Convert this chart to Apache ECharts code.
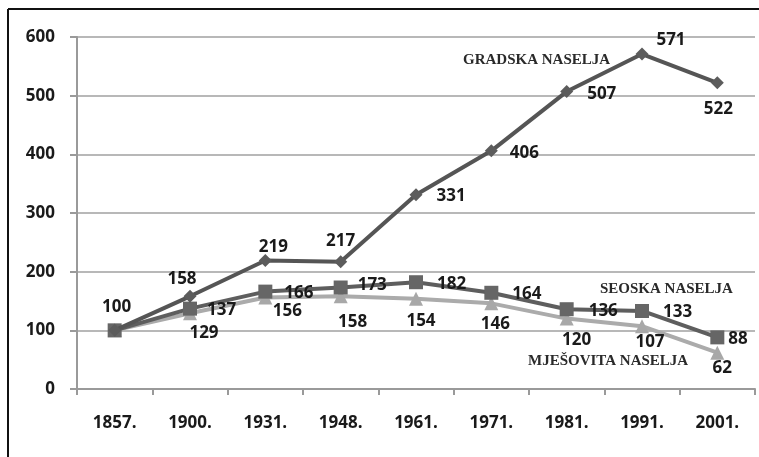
<!DOCTYPE html>
<html><head><meta charset="utf-8">
<script src="https://cdn.jsdelivr.net/npm/echarts@6/dist/echarts.min.js"></script>
<style>html,body{margin:0;padding:0;background:#fff}#c{width:759px;height:457px}</style>
</head><body><div id="c"></div>
<script>
const years = ['1857.','1900.','1931.','1948.','1961.','1971.','1981.','1991.','2001.'];
const gradska = [100,158,219,217,331,406,507,571,522];
const seoska = [100,137,166,173,182,164,136,133,88];
const mjesovita = [100,129,156,158,154,146,120,107,62];
const yTicks = [0,100,200,300,400,500,600];

// label placement (style only)
const gPos = ['top','top','top','top','right','right','right','top','bottom'];
const sPos = [null,'right','right','right','right','right','right','right','right'];
const mPos = [null,'bottom','bottom','bottom','bottom','bottom','bottom','bottom','bottom'];
const gOff = [[2,-2],[-8,4],[8,8],[0,0],[8,1],[6,2],[8,3],[29,7],[1,5]];
const sOff = [[0,0],[4,2],[6,2],[4,-2],[8,2],[8,1],[9,2],[8,1],[-2,2]];
const mOff = [[0,0],[14,-2],[22,-8],[12,4],[5,1],[4,-1],[10,0],[8,-6],[5,-6]];

const labelFont = {fontFamily:'Open Sans',fontWeight:'bold',fontSize:17,color:'#1a1a1a'};
function build(vals,pos,off){
  return vals.map((v,i)=>{
    if(!pos[i]) return {value:v,label:{show:false}};
    return {value:v,label:Object.assign({show:true,position:pos[i],offset:off[i],distance:6},labelFont)};
  });
}

const chart = echarts.init(document.getElementById('c'),null,{renderer:'canvas'});
chart.setOption({
  animation:false,
  backgroundColor:'#fff',
  grid:{left:77,right:4,top:37,bottom:68},
  xAxis:{type:'category',data:years,boundaryGap:true,
    axisLine:{lineStyle:{color:'#9a9a9a',width:2}},
    axisTick:{show:true,length:6,lineStyle:{color:'#9a9a9a',width:2}},
    axisLabel:{margin:26,fontFamily:'Open Sans',fontWeight:'bold',fontSize:17,color:'#1a1a1a'}},
  yAxis:{type:'value',min:0,max:600,interval:100,
    axisLine:{show:true,lineStyle:{color:'#9a9a9a',width:2}},
    axisTick:{show:true,length:7,lineStyle:{color:'#9a9a9a',width:2}},
    splitLine:{lineStyle:{color:'#b8b8b8',width:2}},
    axisLabel:{margin:22,fontFamily:'Open Sans',fontWeight:'bold',fontSize:17,color:'#1a1a1a',
      formatter:v=>yTicks.includes(v)?String(v):''}},
  series:[
    {name:'MJEŠOVITA NASELJA',type:'line',data:build(mjesovita,mPos,mOff),symbol:'triangle',symbolSize:14,
      lineStyle:{color:'#ababab',width:4},itemStyle:{color:'#a8a8a8'},z:2},
    {name:'SEOSKA NASELJA',type:'line',data:build(seoska,sPos,sOff),symbol:'rect',symbolSize:14,
      lineStyle:{color:'#5e5e5e',width:4},itemStyle:{color:'#666666'},z:3},
    {name:'GRADSKA NASELJA',type:'line',data:build(gradska,gPos,gOff),symbol:'diamond',symbolSize:13,
      lineStyle:{color:'#555555',width:4},itemStyle:{color:'#5c5c5c'},z:4}
  ],
  graphic:[
    {type:'line',shape:{x1:8,y1:9,x2:759,y2:9},style:{stroke:'#111',lineWidth:2}},
    {type:'line',shape:{x1:8,y1:9,x2:8,y2:457},style:{stroke:'#111',lineWidth:2}},
    {type:'text',left:463,top:53,style:{text:'GRADSKA NASELJA',font:'bold 15px "Liberation Serif"',fill:'#2a2a2a'}},
    {type:'text',left:600,top:282,style:{text:'SEOSKA NASELJA',font:'bold 15px "Liberation Serif"',fill:'#2a2a2a'}},
    {type:'text',left:528,top:354,style:{text:'MJEŠOVITA NASELJA',font:'bold 15px "Liberation Serif"',fill:'#2a2a2a'}}
  ]
});
</script></body></html>
